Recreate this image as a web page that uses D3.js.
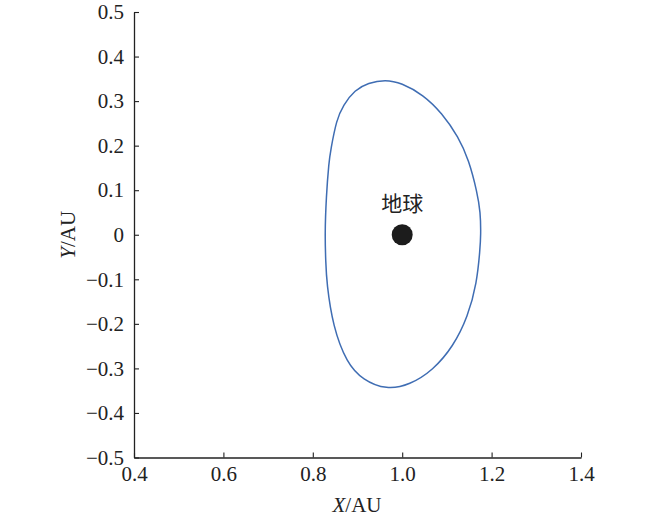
<!DOCTYPE html>
<html><head><meta charset="utf-8">
<script src="https://cdn.jsdelivr.net/npm/d3@7"></script>
<style>body{margin:0;background:#fff}svg{display:block}</style>
</head><body>
<svg id="c" width="650" height="518"></svg>
<script>
const xTicks = [0.4, 0.6, 0.8, 1.0, 1.2, 1.4];
const yTicks = [0.5, 0.4, 0.3, 0.2, 0.1, 0, -0.1, -0.2, -0.3, -0.4, -0.5];
const orbitX = [1.176, 1.175, 1.168, 1.149, 1.126, 1.089, 1.047, 0.998, 0.962, 0.924, 0.894, 0.868, 0.853, 0.840, 0.836, 0.830, 0.827,
                0.829, 0.831, 0.845, 0.876, 0.912, 0.965, 1.017, 1.069, 1.114, 1.147, 1.167, 1.174];
const orbitY = [0.000, 0.051, 0.094, 0.168, 0.219, 0.273, 0.314, 0.341, 0.348, 0.341, 0.325, 0.291, 0.258, 0.190, 0.163, 0.085, 0.000,
                -0.061, -0.108, -0.206, -0.288, -0.326, -0.348, -0.337, -0.304, -0.251, -0.184, -0.108, -0.034];
const earth = {x: 1.0, y: 0, label: "地球"};

const svg = d3.select("#c");
const x = d3.scaleLinear().domain([0.4, 1.4]).range([134, 581]);
const y = d3.scaleLinear().domain([-0.5, 0.5]).range([457.5, 12]);
const fmt = v => (v < 0 ? "\u2212" : "") + (v === 0 ? "0" : Math.abs(v).toFixed(1));
const serif = "'Liberation Serif', 'Times New Roman', serif";

const xa = svg.append("g").attr("transform", `translate(0,${y(-0.5)})`)
  .call(d3.axisBottom(x).tickValues(xTicks).tickSizeInner(-5).tickSizeOuter(0).tickPadding(8).tickFormat(fmt));
const ya = svg.append("g").attr("transform", `translate(${x(0.4)},0)`)
  .call(d3.axisLeft(y).tickValues(yTicks).tickSizeInner(-5).tickSizeOuter(0).tickPadding(10).tickFormat(fmt));
[xa, ya].forEach(g => {
  g.attr("font-family", serif).attr("font-size", 21);
  g.select(".domain").attr("stroke", "#222").attr("stroke-width", 1.3);
  g.selectAll(".tick line").attr("stroke", "#222").attr("stroke-width", 1.1);
  g.selectAll(".tick text").attr("fill", "#222").style("font-family", serif).style("font-size", "21px");
});
xa.selectAll(".tick text").attr("dy", "0.75em");

const pts = orbitX.map((v, i) => [x(v), y(orbitY[i])]);
svg.append("path").attr("d", d3.line().curve(d3.curveBasisClosed)(pts))
  .attr("fill", "none").attr("stroke", "#3f6db3").attr("stroke-width", 1.5);

svg.append("circle").attr("cx", x(earth.x)).attr("cy", y(earth.y)).attr("r", 10.5).attr("fill", "#1c1c1c");
svg.append("text").attr("x", x(earth.x)).attr("y", 211).attr("text-anchor", "middle")
  .style("font-family", "'Noto Sans CJK SC', sans-serif").style("font-size", "21px").attr("fill", "#222").text(earth.label);

const xl = svg.append("text").attr("x", 357).attr("y", 512).attr("text-anchor", "middle")
  .style("font-family", serif).style("font-size", "21px").attr("fill", "#222");
xl.append("tspan").style("font-style", "italic").text("X");
xl.append("tspan").text("/AU");
const yl = svg.append("text").attr("transform", `translate(75,${y(0)}) rotate(-90)`).attr("text-anchor", "middle")
  .style("font-family", serif).style("font-size", "21px").attr("fill", "#222");
yl.append("tspan").style("font-style", "italic").text("Y");
yl.append("tspan").text("/AU");
</script>
</body></html>
